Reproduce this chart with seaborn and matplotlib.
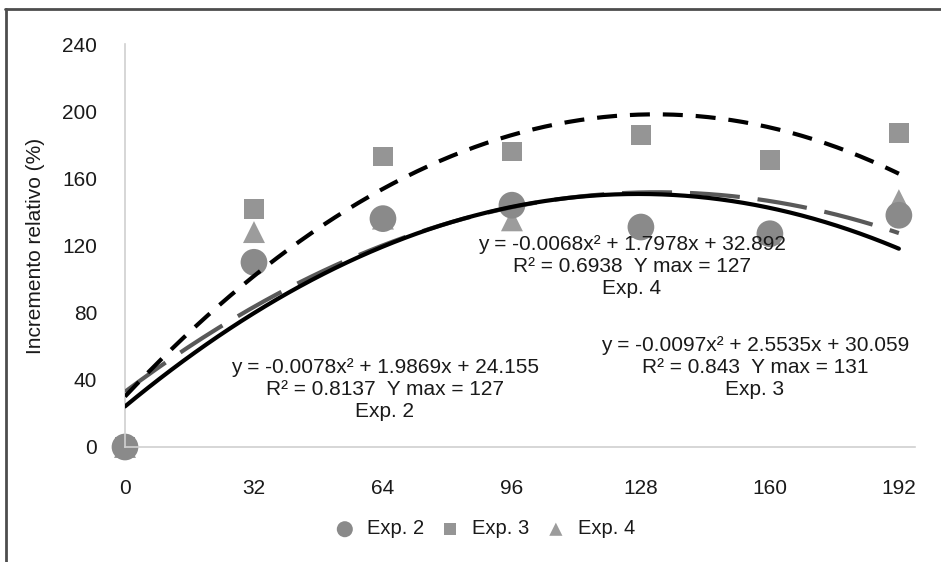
import numpy as np
import pandas as pd
import matplotlib.pyplot as plt
import seaborn as sns
from matplotlib.lines import Line2D

# Datos
dias = [0, 32, 64, 96, 128, 160, 192]
exp2 = [0, 110, 136, 144, 131, 127, 138]
exp3 = [0, 142, 173, 176, 186, 171, 187]
exp4 = [0, 128, 136, 135, 131, 127, 147]

# Coeficientes de las líneas de tendencia (polinómica de grado 2)
coef_exp2 = [-0.0078, 1.9869, 24.155]
coef_exp3 = [-0.0097, 2.5535, 30.059]
coef_exp4 = [-0.0068, 1.7978, 32.892]

texto_exp2 = "y = -0.0078x² + 1.9869x + 24.155\nR² = 0.8137  Y max = 127\nExp. 2"
texto_exp3 = "y = -0.0097x² + 2.5535x + 30.059\nR² = 0.843  Y max = 131\nExp. 3"
texto_exp4 = "y = -0.0068x² + 1.7978x + 32.892\nR² = 0.6938  Y max = 127\nExp. 4"

xticks = [0, 32, 64, 96, 128, 160, 192]
yticks = [0, 40, 80, 120, 160, 200, 240]

sns.set_theme(style="white")
plt.rcParams['font.family'] = ['Liberation Sans', 'DejaVu Sans']
TXT = "#1a1a1a"
FS = 15

fig = plt.figure(figsize=(9.41, 5.62), dpi=100)
ax = fig.add_axes([125 / 941, 1 - 447 / 562, 790 / 941, 403 / 562])

df = pd.DataFrame({"dias": dias, "Exp. 2": exp2, "Exp. 3": exp3, "Exp. 4": exp4})

# Puntos
sns.scatterplot(data=df, x="dias", y="Exp. 2", marker="o", s=370, color="#8a8a8a",
                edgecolor="none", ax=ax, label="Exp. 2", zorder=2, clip_on=False)
sns.scatterplot(data=df, x="dias", y="Exp. 3", marker="s", s=205, color="#959595",
                edgecolor="none", ax=ax, label="Exp. 3", zorder=1.5, clip_on=False)
sns.scatterplot(data=df, x="dias", y="Exp. 4", marker="^", s=250, color="#9c9c9c",
                edgecolor="none", ax=ax, label="Exp. 4", zorder=1, clip_on=False)

# Líneas de tendencia
xs = np.linspace(0, 192, 200)
sns.lineplot(x=xs, y=np.polyval(coef_exp4, xs), color="#595959", linewidth=3, ax=ax, zorder=3)
ax.lines[-1].set_dashes([12, 4.3])
sns.lineplot(x=xs, y=np.polyval(coef_exp2, xs), color="black", linewidth=3, ax=ax, zorder=4)
sns.lineplot(x=xs, y=np.polyval(coef_exp3, xs), color="black", linewidth=3, ax=ax, zorder=5)
ax.lines[-1].set_dashes([4.8, 3.1])

# Ecuaciones
ax.text(64.5, 34, texto_exp2, ha="center", va="center", fontsize=FS, color=TXT,
        linespacing=1.2, zorder=6)
ax.text(125.8, 107.2, texto_exp4, ha="center", va="center", fontsize=FS, color=TXT,
        linespacing=1.2, zorder=6)
ax.text(156.3, 47.6, texto_exp3, ha="center", va="center", fontsize=FS, color=TXT,
        linespacing=1.2, zorder=6)

ax.set_xlim(0, 196)
ax.set_ylim(0, 240)
ax.set_xticks(xticks)
ax.set_yticks(yticks)
ax.tick_params(axis="x", length=0, pad=23, labelsize=FS, labelcolor=TXT)
ax.tick_params(axis="y", length=0, pad=20, labelsize=FS, labelcolor=TXT)
ax.set_xlabel("")
ax.set_ylabel("Incremento relativo (%)", fontsize=FS, color=TXT)
ax.yaxis.set_label_coords(-0.101, 0.5)

for lado in ["top", "right"]:
    ax.spines[lado].set_visible(False)
for lado in ["left", "bottom"]:
    ax.spines[lado].set_color("#d0d0d0")
    ax.spines[lado].set_linewidth(1.2)

# Leyenda
handles, labels = ax.get_legend_handles_labels()
ax.get_legend().remove()
fig.legend(handles, labels, loc="center", bbox_to_anchor=(485 / 941, 1 - 529 / 562),
           ncol=3, frameon=False, fontsize=14.5, markerscale=0.6, handlelength=1.0,
           handletextpad=0.6, columnspacing=0.8, labelcolor=TXT)

# Marco de la imagen
fig.add_artist(Line2D([5 / 941, 1], [1 - 9 / 562, 1 - 9 / 562], color="#4d4d4d", lw=2))
fig.add_artist(Line2D([6 / 941, 6 / 941], [0, 1 - 9 / 562], color="#4d4d4d", lw=2))

fig.savefig("out.png", dpi=100)
